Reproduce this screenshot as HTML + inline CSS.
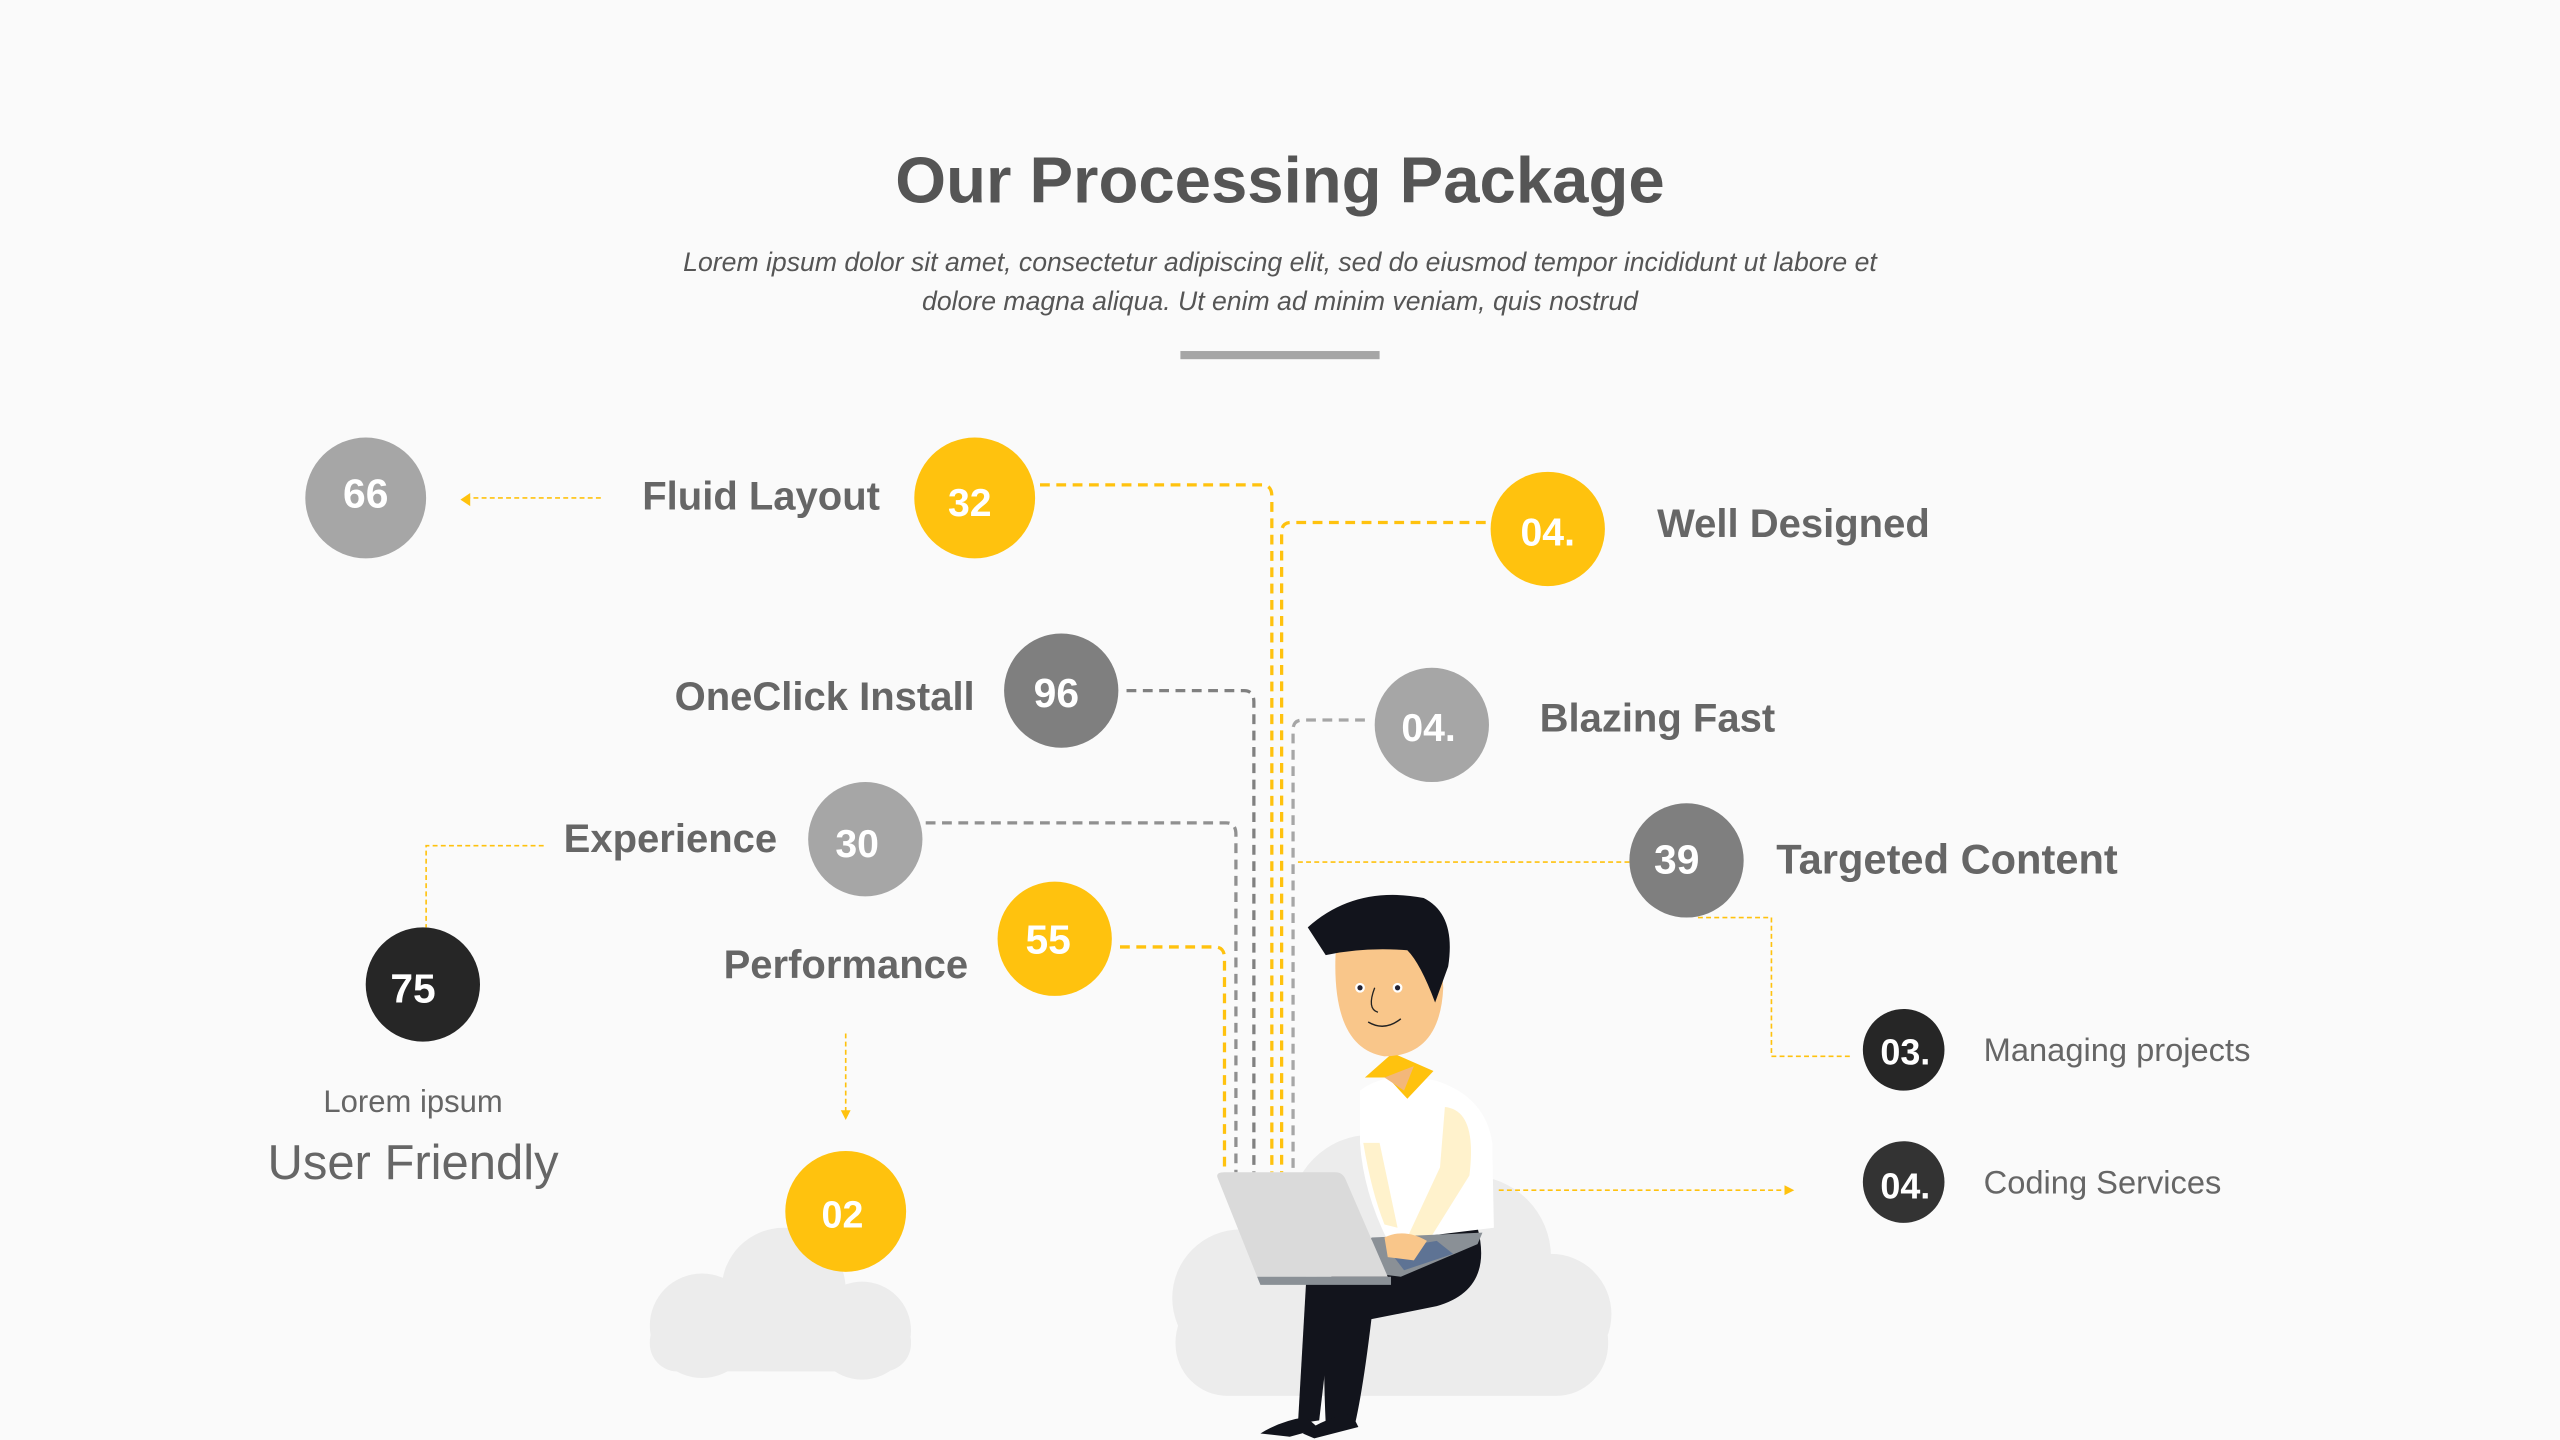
<!DOCTYPE html>
<html><head><meta charset="utf-8"><style>
html,body{margin:0;padding:0;background:#fafafa;}
svg{display:block;}
text{font-family:"Liberation Sans",sans-serif;}
</style></head><body>
<svg width="2560" height="1440" viewBox="0 0 1568 882" preserveAspectRatio="none" xmlns="http://www.w3.org/2000/svg">
<rect width="1568" height="882" fill="#fafafa"/>
<text x="784" y="124" text-anchor="middle" font-size="40" font-weight="bold" fill="#555">Our Processing Package</text>
<text x="784" y="166" text-anchor="middle" font-size="16.3" font-style="italic" fill="#555">Lorem ipsum dolor sit amet, consectetur adipiscing elit, sed do eiusmod tempor incididunt ut labore et</text>
<text x="784" y="190" text-anchor="middle" font-size="16.3" font-style="italic" fill="#555">dolore magna aliqua. Ut enim ad minim veniam, quis nostrud</text>
<rect x="723" y="215" width="122" height="5" fill="#a6a6a6"/>

<!-- clouds -->
<g fill="#ececec">
<circle cx="480" cy="790" r="38"/><circle cx="430" cy="812" r="32"/><circle cx="528" cy="815" r="30"/><rect x="398" y="805" width="160" height="35" rx="17"/>
<circle cx="840" cy="745" r="50"/><circle cx="760" cy="795" r="42"/><circle cx="900" cy="770" r="50"/><circle cx="950" cy="805" r="37"/><rect x="720" y="790" width="265" height="65" rx="32"/>
</g>

<!-- thick dashed connectors -->
<g fill="none" stroke-width="2" stroke-dasharray="6,4">
<path d="M637 297 H773 Q779 297 779 304 V718" stroke="#ffc20e"/>
<path d="M910 320 H791 Q785 320 785 326 V718" stroke="#ffc20e"/>
<path d="M690 423 H762 Q768 423 768 430 V718" stroke="#808080"/>
<path d="M836 441 H798 Q792 441 792 447 V718" stroke="#a6a6a6"/>
<path d="M567 504 H751 Q757 504 757 511 V718" stroke="#909090"/>
<path d="M686 580 H744 Q750 580 750 587 V718" stroke="#ffc20e"/>
</g>
<!-- thin connectors -->
<g fill="none" stroke="#ffc20e" stroke-width="1" stroke-dasharray="3,2">
<path d="M368 305 H286"/>
<path d="M333 518 H261 V568"/>
<path d="M518 633 V681"/>
<path d="M998 528 H795"/>
<path d="M1040 562 H1085 V647 H1133"/>
<path d="M918 729 H1094"/>
</g>
<g fill="#ffc20e">
<path d="M282 306 L288 302 L288 310 Z"/>
<path d="M518 686 L515 680 L521 680 Z"/>
<path d="M1099 729 L1093 726 L1093 732 Z"/>
</g>

<!-- circles -->
<g font-weight="bold" fill="#fff" text-anchor="middle">
<circle cx="224" cy="305" r="37" fill="#a6a6a6"/><text x="224" y="311" font-size="25" fill="#fff">66</text>
<circle cx="597" cy="305" r="37" fill="#ffc20e"/><text x="594" y="316" font-size="24" fill="#fff">32</text>
<circle cx="948" cy="324" r="35" fill="#ffc20e"/><text x="948" y="334" font-size="24" fill="#fff">04.</text>
<circle cx="650" cy="423" r="35" fill="#7f7f7f"/><text x="647" y="433" font-size="25" fill="#fff">96</text>
<circle cx="877" cy="444" r="35" fill="#a6a6a6"/><text x="875" y="454" font-size="24" fill="#fff">04.</text>
<circle cx="530" cy="514" r="35" fill="#a6a6a6"/><text x="525" y="525" font-size="24" fill="#fff">30</text>
<circle cx="1033" cy="527" r="35" fill="#7f7f7f"/><text x="1027" y="535" font-size="25" fill="#fff">39</text>
<circle cx="646" cy="575" r="35" fill="#ffc20e"/><text x="642" y="584" font-size="25" fill="#fff">55</text>
<circle cx="259" cy="603" r="35" fill="#262626"/><text x="253" y="614" font-size="25" fill="#fff">75</text>
<circle cx="1166" cy="643" r="25" fill="#262626"/><text x="1167" y="652" font-size="22" fill="#fff">03.</text>
<circle cx="1166" cy="724" r="25" fill="#333"/><text x="1167" y="734" font-size="22" fill="#fff">04.</text>
<circle cx="518" cy="742" r="37" fill="#ffc20e"/><text x="516" y="752" font-size="23" fill="#fff">02</text>
</g>

<!-- labels -->
<g font-weight="bold" fill="#666" font-size="24.5">
<text x="539" y="312" text-anchor="end">Fluid Layout</text>
<text x="1015" y="329">Well Designed</text>
<text x="597" y="435" text-anchor="end">OneClick Install</text>
<text x="943" y="448">Blazing Fast</text>
<text x="476" y="522" text-anchor="end">Experience</text>
<text x="1088" y="535" font-size="25.5">Targeted Content</text>
<text x="593" y="599" text-anchor="end">Performance</text>
</g>
<text x="1215" y="650" font-size="20" fill="#666">Managing projects</text>
<text x="1215" y="731" font-size="20" fill="#666">Coding Services</text>
<text x="253" y="681" text-anchor="middle" font-size="19" fill="#666">Lorem ipsum</text>
<text x="253" y="722" text-anchor="middle" font-size="30" fill="#666">User Friendly</text>

<!-- person -->
<g>
<path d="M905 752 Q915 790 880 800 L840 808 Q835 850 830 872 L812 872 Q810 830 812 790 L825 760 Z" fill="#12141c"/>
<path d="M800 785 L818 785 L808 870 L795 872 Z" fill="#12141c"/>
<path d="M772 878 Q785 870 800 868 L808 875 L790 880 Z" fill="#12141c"/>
<path d="M798 878 Q812 868 828 866 L832 874 L805 881 Z" fill="#12141c"/>
<path d="M833 668 Q850 655 880 662 Q910 672 914 700 L915 752 L850 760 Q835 730 833 700 Z" fill="#fff"/>
<path d="M836 660 L853 645 L878 656 L862 673 L850 660 Z" fill="#ffc20e"/>
<path d="M848 660 L866 653 L860 668 Z" fill="#f3b77a"/>
<path d="M885 678 Q905 680 900 720 L875 760 L862 758 L882 715 Z" fill="#fff2cc"/>
<path d="M835 700 Q840 730 848 750 L856 752 L845 700 Z" fill="#fff2cc"/>
<path d="M840 758 L908 755 L905 762 L858 782 L842 780 Z" fill="#8a9096"/>
<path d="M850 765 L880 760 L890 768 L860 778 Z" fill="#5e7394"/>
<path d="M848 758 Q860 752 874 760 L866 772 L850 770 Z" fill="#f9c68a"/>
<path d="M746 722 Q744 718 750 718 L818 718 Q822 718 824 722 L850 782 L770 782 Z" fill="#dadada"/>
<path d="M770 782 L852 782 L852 787 L772 787 Z" fill="#8a9096"/>
<path d="M818 585 Q816 642 848 647 Q882 647 884 605 L882 570 Q850 560 820 575 Z" fill="#f9c68a"/>
<path d="M801 568 Q830 542 872 550 Q892 560 887 592 L879 614 Q870 590 862 582 Q835 580 812 585 Z" fill="#12141c"/>
<circle cx="833" cy="605" r="3" fill="#fff"/><circle cx="833" cy="605" r="1.6" fill="#223"/>
<circle cx="856" cy="605" r="3" fill="#fff"/><circle cx="856" cy="605" r="1.6" fill="#223"/>
<path d="M842 605 Q837 618 844 620" fill="none" stroke="#222" stroke-width="0.8"/>
<path d="M838 626 Q848 632 858 624" fill="none" stroke="#222" stroke-width="0.9"/>
</g>
</svg>
</body></html>
